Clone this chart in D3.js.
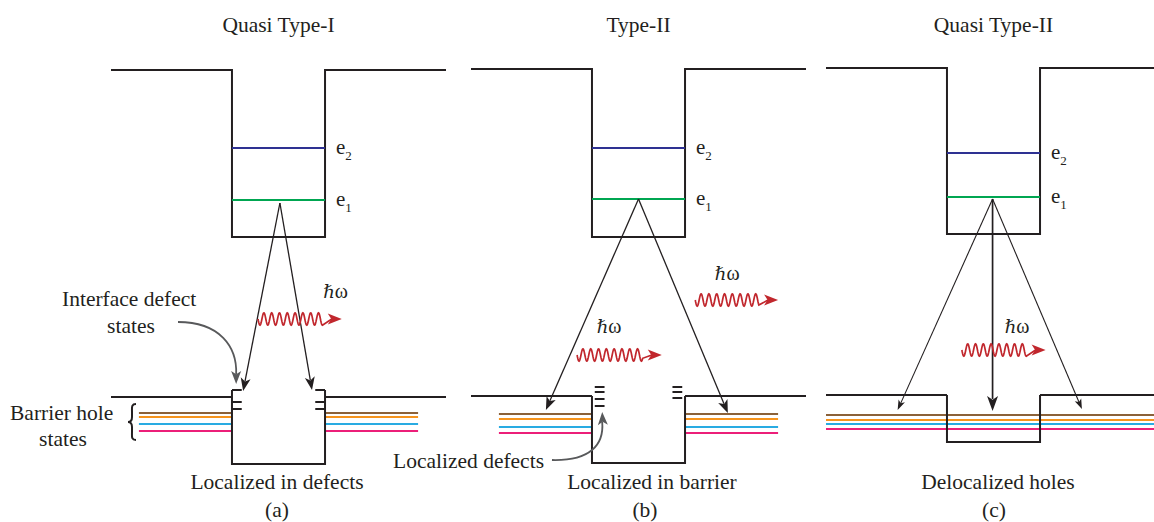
<!DOCTYPE html>
<html>
<head>
<meta charset="utf-8">
<script src="https://cdn.jsdelivr.net/npm/d3@7"></script>
<style>
  html, body { margin: 0; background: #fff; }
  text { font-family: "Liberation Serif", "Times New Roman", serif; fill: #231f20; }
</style>
</head>
<body>
<svg id="fig" width="1154" height="522"></svg>
<script>
// Panels, titles and captions
const panels = ["a", "b", "c"];
const titles = ["Quasi Type-I", "Type-II", "Quasi Type-II"];
const captions = ["Localized in defects", "Localized in barrier", "Delocalized holes"];
const tags = ["(a)", "(b)", "(c)"];

// Band edges (eV)
const cbBarrier = [3.00, 3.01, 3.02];
const cbWell = [1.33, 1.33, 1.36];
const vbBarrier = [-0.27, -0.26, -0.25];
const vbWell = [-0.94, -0.93, -0.72];

// Confined electron levels (eV)
const e2Level = [2.22, 2.22, 2.17];
const e1Level = [1.70, 1.71, 1.73];

// Barrier hole states (eV): brown, orange, blue, pink
const holeStates = [
  [-0.43, -0.47, -0.54, -0.61],
  [-0.44, -0.49, -0.57, -0.63],
  [-0.45, -0.50, -0.54, -0.59]
];
const holeSpan = [15, 15, 18];          // reach from well centre (nm)
const holeThroughWell = [false, false, true];

// Interface defect levels (eV) on the left / right well walls
const defectsLeft = [[-0.20, -0.32, -0.39], [-0.17, -0.22, -0.29, -0.36], []];
const defectsRight = [[-0.20, -0.32, -0.39], [-0.17, -0.22, -0.28], []];

// Radiative transitions: panel, start (nm, eV), end (nm, eV), weight
const transitions = [
  ["a", 0.15, 1.67, -3.8, -0.21, 1],
  ["a", 0.15, 1.67, 3.6, -0.20, 1],
  ["b", 0.0, 1.71, -9.95, -0.40, 1],
  ["b", 0.0, 1.71, 9.6, -0.43, 1],
  ["c", -0.1, 1.71, -10.3, -0.40, 0],
  ["c", -0.1, 1.71, -0.1, -0.41, 2],
  ["c", -0.1, 1.71, 9.5, -0.39, 0]
];

// Emitted photons: panel, start (nm), tip (nm), level (eV), label (nm, eV)
const photons = [
  ["a", -2.2, 6.8, 0.51, 4.8, 0.72],
  ["b", -6.6, 2.5, 0.15, -4.5, 0.37],
  ["b", 6.1, 15.0, 0.70, 8.2, 0.90],
  ["c", -3.4, 5.6, 0.20, 1.2, 0.37]
];

const holeColors = ["#8c6239", "#f7941d", "#29abe2", "#ec1f79"];
const bandColor = "#231f20";

const svg = d3.select("#fig");

// left edge of each panel, and coordinates inside a panel
const xPanel = d3.scaleOrdinal().domain(panels).range([111, 471, 826]);
const panelWidth = 335;
const xIn = d3.scaleLinear().domain([-18, 18]).range([0, panelWidth]);
const yE = d3.scaleLinear().domain([-1, 3]).range([470, 70]);
const halfWell = 5;

function arrowHead(g, x1, y1, x0, y0, len, wid, color) {
  const a = Math.atan2(y1 - y0, x1 - x0);
  const bx = x1 - len * Math.cos(a), by = y1 - len * Math.sin(a);
  const px = -Math.sin(a) * wid / 2, py = Math.cos(a) * wid / 2;
  const notch = 0.25 * len;
  const nx = x1 - (len - notch) * Math.cos(a), ny = y1 - (len - notch) * Math.sin(a);
  g.append("path")
    .attr("d", `M${x1},${y1}L${bx + px},${by + py}L${nx},${ny}L${bx - px},${by - py}Z`)
    .attr("fill", color);
}

panels.forEach((p, i) => {
  const g = svg.append("g").attr("transform", `translate(${xPanel(p)},0)`);
  const cx = xIn(0);

  // title & captions
  g.append("text").attr("x", cx).attr("y", 32).attr("text-anchor", "middle")
    .attr("font-size", 21.5).text(titles[i]);
  const capShift = [-1.5, 13.5, 4.5][i], tagShift = [-1.5, 6.5, 0.5][i];
  g.append("text").attr("x", cx + capShift).attr("y", 489).attr("text-anchor", "middle")
    .attr("font-size", 21.5).text(captions[i]);
  g.append("text").attr("x", cx + tagShift).attr("y", 517).attr("text-anchor", "middle")
    .attr("font-size", 21.5).text(tags[i]);

  // conduction band
  g.append("path")
    .attr("d", `M${xIn(-18)},${yE(cbBarrier[i])}H${xIn(-halfWell)}V${yE(cbWell[i])}H${xIn(halfWell)}V${yE(cbBarrier[i])}H${xIn(18)}`)
    .attr("fill", "none").attr("stroke", bandColor).attr("stroke-width", 2);

  // electron levels
  [[e2Level[i], "#2e3192", "2"], [e1Level[i], "#00a651", "1"]].forEach(([E, col, n]) => {
    g.append("line").attr("x1", xIn(-halfWell)).attr("x2", xIn(halfWell))
      .attr("y1", yE(E)).attr("y2", yE(E)).attr("stroke", col).attr("stroke-width", 2);
    const t = g.append("text").attr("x", xIn(halfWell) + 11).attr("y", yE(E) + 6).attr("font-size", 21);
    t.append("tspan").text("e");
    t.append("tspan").attr("font-size", 13).attr("dy", 6).text(n);
  });

  // barrier hole states
  holeStates[i].forEach((E, k) => {
    const segs = holeThroughWell[i]
      ? [[-holeSpan[i], holeSpan[i]]]
      : [[-holeSpan[i], -halfWell], [halfWell, holeSpan[i]]];
    segs.forEach(([a, b]) => {
      g.append("line").attr("x1", xIn(a)).attr("x2", xIn(b))
        .attr("y1", yE(E)).attr("y2", yE(E))
        .attr("stroke", holeColors[k]).attr("stroke-width", 2);
    });
  });

  // valence band
  const topL = d3.max([vbBarrier[i], ...(i === 0 ? defectsLeft[i] : [])]);
  const topR = d3.max([vbBarrier[i], ...(i === 0 ? defectsRight[i] : [])]);
  g.append("path")
    .attr("d", `M${xIn(-18)},${yE(vbBarrier[i])}H${xIn(-halfWell)}`)
    .attr("fill", "none").attr("stroke", bandColor).attr("stroke-width", 2);
  g.append("path")
    .attr("d", `M${xIn(-halfWell)},${yE(topL)}V${yE(vbWell[i])}H${xIn(halfWell)}V${yE(topR)}`)
    .attr("fill", "none").attr("stroke", bandColor).attr("stroke-width", 2);
  g.append("path")
    .attr("d", `M${xIn(halfWell)},${yE(vbBarrier[i])}H${xIn(18)}`)
    .attr("fill", "none").attr("stroke", bandColor).attr("stroke-width", 2);

  // interface defect levels
  const gap = i === 0 ? 0 : 0.3, tick = 1.05;
  defectsLeft[i].forEach(E => {
    g.append("line").attr("x1", xIn(-halfWell + gap)).attr("x2", xIn(-halfWell + gap + tick))
      .attr("y1", yE(E)).attr("y2", yE(E)).attr("stroke", bandColor).attr("stroke-width", 2);
  });
  defectsRight[i].forEach(E => {
    g.append("line").attr("x1", xIn(halfWell - gap - tick)).attr("x2", xIn(halfWell - gap))
      .attr("y1", yE(E)).attr("y2", yE(E)).attr("stroke", bandColor).attr("stroke-width", 2);
  });

  // transitions
  transitions.filter(t => t[0] === p).forEach(([, x0, E0, x1, E1, w]) => {
    const X0 = xIn(x0), Y0 = yE(E0), X1 = xIn(x1), Y1 = yE(E1);
    const len = [10, 13, 15][w], wid = [7, 10, 11][w];
    const a = Math.atan2(Y1 - Y0, X1 - X0);
    g.append("line").attr("x1", X0).attr("y1", Y0)
      .attr("x2", X1 - (len - 3) * Math.cos(a)).attr("y2", Y1 - (len - 3) * Math.sin(a))
      .attr("stroke", bandColor).attr("stroke-width", [1.1, 1.3, 1.7][w]);
    arrowHead(g, X1, Y1, X0, Y0, len, wid, bandColor);
  });

  // photons
  photons.filter(ph => ph[0] === p).forEach(([, x0, xt, E, lx, lE]) => {
    const X0 = xIn(x0), XT = xIn(xt), Y = yE(E);
    const waveEnd = XT - 19, period = 7.8, amp = 6.2;
    const pts = [];
    for (let x = X0; x <= waveEnd + 0.01; x += 0.4) {
      pts.push([x, Y - amp * Math.sin((x - X0) / period * 2 * Math.PI + Math.PI)]);
    }
    pts.push([XT - 10, Y]);
    g.append("path").attr("d", d3.line()(pts))
      .attr("fill", "none").attr("stroke", "#c1272d").attr("stroke-width", 1.7);
    arrowHead(g, XT, Y, X0, Y, 14, 11, "#c1272d");
    const t = g.append("text").attr("x", xIn(lx)).attr("y", yE(lE)).attr("font-size", 20);
    t.append("tspan").attr("font-style", "italic").attr("font-family", "DejaVu Serif").attr("font-size", 18).text("\u210F");
    t.append("tspan").text("\u03C9");
  });
});

// annotations
const ga = svg.append("g").attr("transform", `translate(${xPanel("a")},0)`);
const gb = svg.append("g").attr("transform", `translate(${xPanel("b")},0)`);
const grey = "#58595b";

ga.append("text").attr("x", xIn(-18) - 49).attr("y", 306).attr("font-size", 21.5).text("Interface defect");
ga.append("text").attr("x", xIn(-18) + 20).attr("y", 333).attr("text-anchor", "middle").attr("font-size", 21.5).text("states");
{
  const sx = xIn(-10.8), sy = yE(0.48), ex = xIn(-4.55), ey = yE(-0.14);
  ga.append("path")
    .attr("d", `M${sx},${sy}C${sx + 42},${sy} ${ex + 1},${sy + 25} ${ex},${ey - 10}`)
    .attr("fill", "none").attr("stroke", grey).attr("stroke-width", 1.8);
  arrowHead(ga, ex, ey, ex, ey - 20, 13, 10, grey);
}

ga.append("text").attr("x", xIn(-18) - 101).attr("y", 420).attr("font-size", 21.5).text("Barrier hole");
ga.append("text").attr("x", xIn(-18) - 48).attr("y", 446).attr("text-anchor", "middle").attr("font-size", 21.5).text("states");
{
  const bx = xIn(-18) + 17, top = yE(-0.34), bot = yE(-0.70), mid = (top + bot) / 2;
  ga.append("path")
    .attr("d", `M${bx + 8},${top}C${bx + 3},${top} ${bx + 4},${top + 4} ${bx + 4},${top + 8}L${bx + 4},${mid - 5}C${bx + 4},${mid - 2} ${bx + 3},${mid} ${bx},${mid}C${bx + 3},${mid} ${bx + 4},${mid + 2} ${bx + 4},${mid + 5}L${bx + 4},${bot - 8}C${bx + 4},${bot - 4} ${bx + 3},${bot} ${bx + 8},${bot}`)
    .attr("fill", "none").attr("stroke", bandColor).attr("stroke-width", 2);
}

gb.append("text").attr("x", xIn(-18) - 78).attr("y", 468).attr("font-size", 21.5).text("Localized defects");
{
  const sx = xIn(-9.3), sy = yE(-0.90), ex = xIn(-3.9), ey = yE(-0.42);
  gb.append("path")
    .attr("d", `M${sx},${sy}C${sx + 38},${sy + 1} ${ex + 2},${sy - 15} ${ex},${ey + 10}`)
    .attr("fill", "none").attr("stroke", grey).attr("stroke-width", 1.8);
  arrowHead(gb, ex, ey, ex + 1, ey + 20, 13, 10, grey);
}
</script>
</body>
</html>
